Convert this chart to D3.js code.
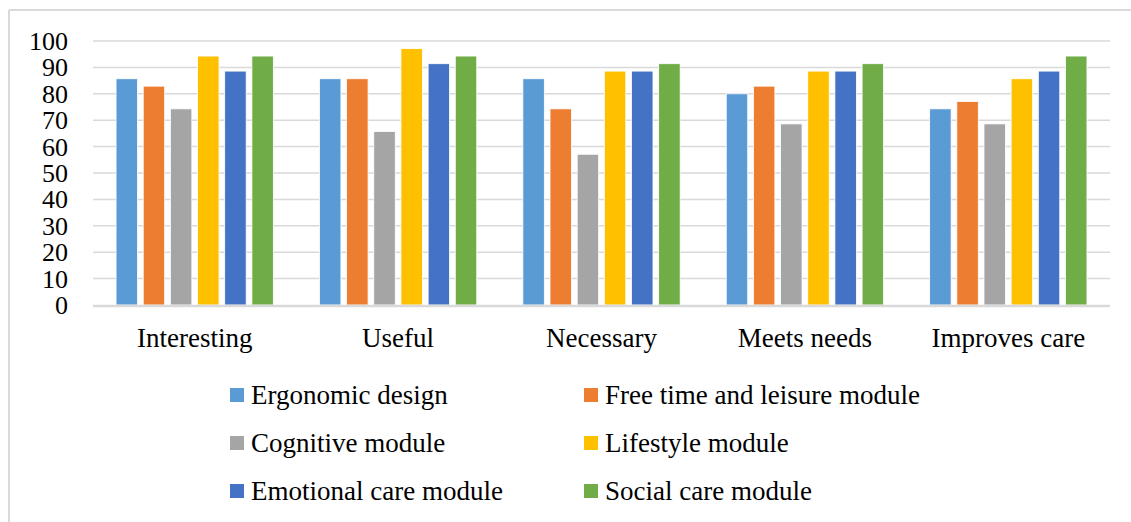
<!DOCTYPE html>
<html>
<head>
<meta charset="utf-8">
<script src="https://cdn.jsdelivr.net/npm/d3@7"></script>
<style>
  body { margin: 0; background: #fff; }
  svg { display: block; font-family: "Liberation Serif", "Times New Roman", serif; }
</style>
</head>
<body>
<div id="chart"></div>
<script>
// data (percent)
var categories = ["Interesting", "Useful", "Necessary", "Meets needs", "Improves care"];
var seriesNames = ["Ergonomic design", "Free time and leisure module", "Cognitive module",
                   "Lifestyle module", "Emotional care module", "Social care module"];
var ergonomic = [85.7, 85.7, 85.7, 80.0, 74.3];
var freeTime  = [82.9, 85.7, 74.3, 82.9, 77.1];
var cognitive = [74.3, 65.7, 57.1, 68.6, 68.6];
var lifestyle = [94.3, 97.1, 88.6, 88.6, 85.7];
var emotional = [88.6, 91.4, 88.6, 88.6, 88.6];
var social    = [94.3, 94.3, 91.4, 91.4, 94.3];
var yTicks = [0, 10, 20, 30, 40, 50, 60, 70, 80, 90, 100];
var colors = ["#5B9BD5", "#ED7D31", "#A5A5A5", "#FFC000", "#4472C4", "#70AD47"];

var allSeries = [ergonomic, freeTime, cognitive, lifestyle, emotional, social];

var W = 1131, H = 522;
var svg = d3.select("#chart").append("svg").attr("width", W).attr("height", H);

// outer frame (only top and left visible in the picture)
svg.append("line").attr("x1", 9).attr("x2", W).attr("y1", 10).attr("y2", 10)
    .attr("stroke", "#d9d9d9").attr("stroke-width", 2);
svg.append("line").attr("x1", 9).attr("x2", 9).attr("y1", 10).attr("y2", H)
    .attr("stroke", "#d9d9d9").attr("stroke-width", 2);

var x0 = d3.scaleBand().domain(categories).range([93, 1110]).paddingInner(0.2).paddingOuter(0.1);
var x1 = d3.scaleBand().domain(d3.range(seriesNames.length)).range([0, x0.bandwidth()])
    .paddingInner(0.21).paddingOuter(0.1);
var y = d3.scaleLinear().domain([0, 100]).range([305, 41]);

// gridlines
svg.append("g").selectAll("line").data(yTicks.filter(d => d > 0)).enter().append("line")
    .attr("x1", 93).attr("x2", 1110)
    .attr("y1", d => y(d)).attr("y2", d => y(d))
    .attr("stroke", "#d9d9d9").attr("stroke-width", 1.5);

// y tick labels
svg.append("g").selectAll("text").data(yTicks).enter().append("text")
    .attr("x", 68).attr("y", d => y(d) + 9)
    .attr("text-anchor", "end")
    .attr("font-size", 26)
    .attr("fill", "#000")
    .text(d => d);

// bars
var rows = [];
categories.forEach((c, i) => {
    allSeries.forEach((s, j) => rows.push({ cat: c, idx: j, value: s[i] }));
});
svg.append("g").selectAll("rect").data(rows).enter().append("rect")
    .attr("x", d => x0(d.cat) + x1(d.idx))
    .attr("y", d => y(d.value))
    .attr("width", x1.bandwidth())
    .attr("height", d => y(0) - y(d.value))
    .attr("fill", d => colors[d.idx])
    .attr("stroke", "#fff").attr("stroke-width", 0.8);

// baseline
svg.append("line").attr("x1", 93).attr("x2", 1110).attr("y1", y(0) + 1).attr("y2", y(0) + 1)
    .attr("stroke", "#d9d9d9").attr("stroke-width", 2.5);

// category labels
svg.append("g").selectAll("text").data(categories).enter().append("text")
    .attr("x", d => x0(d) + x0.bandwidth() / 2)
    .attr("y", 347)
    .attr("text-anchor", "middle")
    .attr("font-size", 27)
    .text(d => d);

// legend, 2 columns x 3 rows
var legendX = [230, 584], legendY = [395, 443, 491];
var leg = svg.append("g").selectAll("g").data(seriesNames).enter().append("g")
    .attr("transform", (d, i) => "translate(" + legendX[i % 2] + "," + legendY[Math.floor(i / 2)] + ")");
leg.append("rect").attr("x", 0).attr("y", -7).attr("width", 14).attr("height", 14)
    .attr("fill", (d, i) => colors[i]);
leg.append("text")
    .attr("x", 21).attr("y", 9)
    .attr("font-size", 27)
    .text(d => d);
</script>
</body>
</html>
